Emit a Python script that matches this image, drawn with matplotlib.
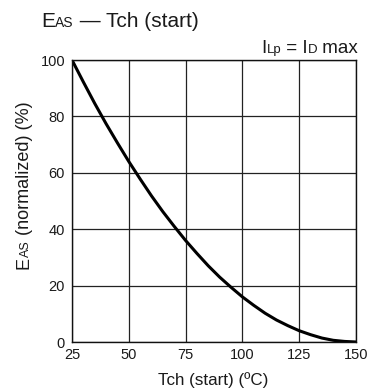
import matplotlib
matplotlib.use("Agg")
import matplotlib.pyplot as plt
from matplotlib.transforms import IdentityTransform

plt.rcParams['font.family'] = ['Liberation Sans', 'DejaVu Sans']

tch = [25, 30, 35, 40, 45, 50, 55, 60, 65, 70, 75, 80, 85, 90, 95, 100,
       105, 110, 115, 120, 125, 130, 135, 140, 145, 150]
eas = [100, 92.2, 84.6, 77.4, 70.6, 64, 57.8, 51.8, 46.2, 41, 36, 31.4, 27,
       23, 19.4, 16, 13, 10.2, 7.8, 5.8, 4, 2.6, 1.4, 0.6, 0.2, 0]
xticks = [25, 50, 75, 100, 125, 150]
yticks = [0, 20, 40, 60, 80, 100]

W, H = 370, 388
TXT = '#1a1a1a'
fig = plt.figure(figsize=(W / 100, H / 100), dpi=100)
ax = fig.add_axes([72/W, 1-342/H, (356-72)/W, (342-60)/H])
ax.plot(tch, eas, color='black', lw=2.2, solid_capstyle='butt')
ax.set_xlim(25, 150)
ax.set_ylim(0, 100)
ax.set_xticks(xticks)
ax.set_yticks(yticks)
ax.tick_params(length=0, labelsize=10.5, colors=TXT)
ax.tick_params(axis='x', pad=4)
ax.tick_params(axis='y', pad=5)
ax.grid(True, color='#222222', lw=0.9)
for s in ax.spines.values():
    s.set_linewidth(1.0)
    s.set_color('#111111')

renderer = fig.canvas.get_renderer()
ident = IdentityTransform()


def twidth(s, size):
    a = fig.text(0, 0, '|' + s + '|', fontsize=size)
    b = fig.text(0, 0, '||', fontsize=size)
    w = a.get_window_extent(renderer).width - b.get_window_extent(renderer).width
    a.remove()
    b.remove()
    return w


def compose(x0, y0, pieces, rotation=0):
    # x0, y0 in image pixel coords (y from top); baseline start
    pos = 0.0
    for s, size in pieces:
        if rotation == 0:
            px, py = x0 + pos, H - y0
        else:
            px, py = x0, H - y0 + pos
        fig.text(px, py, s, fontsize=size, ha='left', va='baseline',
                 rotation=rotation, rotation_mode='anchor',
                 transform=ident, color=TXT)
        pos += twidth(s, size)
    return pos


# title
compose(41, 27, [('E', 15), ('AS', 10), (' — Tch (start)', 15)])

# condition label (right aligned)
cond = [('I', 13.5), ('Lp', 9.5), (' = I', 13.5), ('D', 9.5), (' max', 13.5)]
total = sum(twidth(s, z) for s, z in cond)
compose(358 - total, 53, cond)

# x label
fig.text(213, H - 385, 'Tch (start) (ºC)', fontsize=12.25, ha='center',
         va='baseline', transform=ident, color=TXT)

# y label (rotated)
compose(29, 269, [('E', 13), ('AS', 9), (' (normalized) (%)', 13)], rotation=90)

fig.savefig('out.png', dpi=100)
